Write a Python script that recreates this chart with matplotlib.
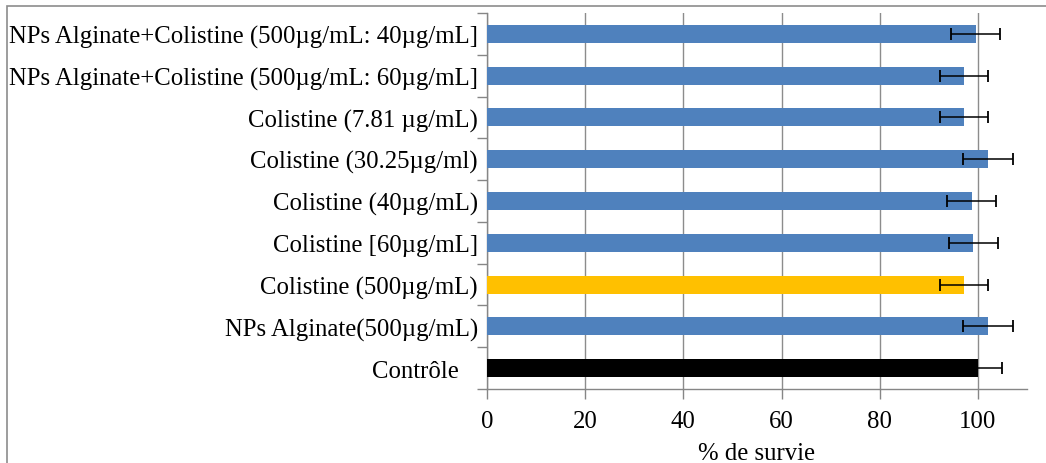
import matplotlib
matplotlib.use("Agg")
import matplotlib.pyplot as plt
from matplotlib.patches import Rectangle

plt.rcParams['font.family'] = ['Liberation Serif', 'DejaVu Serif']

categories = [
    "Contrôle   ",
    "NPs Alginate(500µg/mL)",
    "Colistine (500µg/mL)",
    "Colistine [60µg/mL]",
    "Colistine (40µg/mL)",
    "Colistine (30.25µg/ml)",
    "Colistine (7.81 µg/mL)",
    "NPs Alginate+Colistine (500µg/mL: 60µg/mL]",
    "NPs Alginate+Colistine (500µg/mL: 40µg/mL]",
]
survie = [100, 102.1, 97.2, 99.1, 98.75, 102, 97.1, 97.2, 99.6]
erreurs = [5, 5.1, 4.9, 5, 5, 5.1, 4.9, 4.9, 5]
couleurs = ["#000000", "#4F81BD", "#FFC000", "#4F81BD", "#4F81BD",
            "#4F81BD", "#4F81BD", "#4F81BD", "#4F81BD"]
xticks = [0, 20, 40, 60, 80, 100]
xlabel = "% de survie"

FS = 17.8

fig = plt.figure(figsize=(10.46, 4.64), dpi=100)
ax = fig.add_axes([487/1046, 74/464, 540/1046, 376/464])

n = len(categories)
y = list(range(n))
ax.barh(y, survie, height=0.43, color=couleurs, zorder=3)
ax.errorbar(survie, y, xerr=erreurs, fmt='none', ecolor='black',
            elinewidth=1.1, capsize=4.5, capthick=1.3, zorder=4)

ax.set_xlim(0, 110)
ax.set_ylim(-0.5, n - 0.5)
ax.set_xticks(xticks)
ax.set_xticklabels([str(t) for t in xticks], fontsize=FS)
ax.tick_params(axis='x', direction='out', length=7, width=1, color='#868686', pad=8)
ax.grid(axis='x', color='#8c8c8c', linewidth=1, zorder=0)

# category boundaries as major ticks, labels on minor ticks
ax.set_yticks([i - 0.5 for i in range(n + 1)])
ax.set_yticklabels([])
ax.set_yticks(y, minor=True)
ax.set_yticklabels(categories, minor=True, fontsize=FS)
ax.tick_params(axis='y', which='major', direction='out', length=7, width=1, color='#868686')
ax.tick_params(axis='y', which='minor', length=0, pad=6.5)

for s in ['top', 'right']:
    ax.spines[s].set_visible(False)
for s in ['left', 'bottom']:
    ax.spines[s].set_color('#868686')
    ax.spines[s].set_linewidth(1)

ax.set_xlabel(xlabel, fontsize=FS, labelpad=7)

# outer chart frame
fig.patches.append(Rectangle((7/1046, -0.1), 1.2, (464-7)/464 + 0.1,
                             transform=fig.transFigure, fill=False,
                             edgecolor='#8c8c8c', linewidth=1.2))

fig.savefig("out.png", dpi=100)
